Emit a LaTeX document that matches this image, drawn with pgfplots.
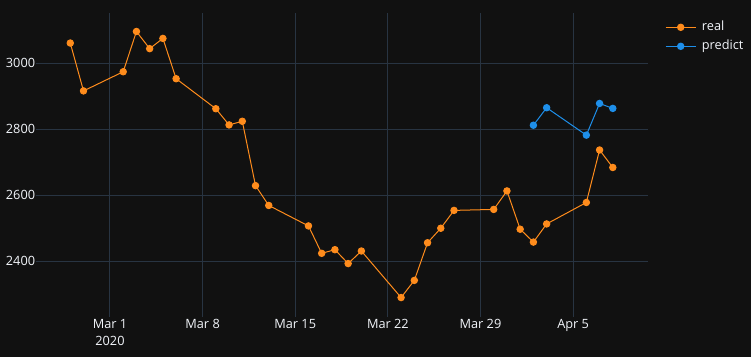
\documentclass[border=0pt]{standalone}
\usepackage{fontspec}
\setmainfont{Open Sans}
\usepackage{pgfplots}
\pgfplotsset{compat=1.18}
\definecolor{bg}{HTML}{111111}
\definecolor{gridc}{HTML}{283442}
\definecolor{fg}{HTML}{F2F5FA}
\definecolor{realc}{HTML}{FF8C1C}
\definecolor{predc}{HTML}{1E8FEA}
\begin{document}
\begin{tikzpicture}
\fill[bg] (-36bp,-40.3bp) rectangle (715bp,316.7bp);
\begin{axis}[
  at={(0,0)}, anchor=south west,
  width=612bp, height=303.7bp, scale only axis,
  xmin=-5.59, xmax=40.66, ymin=2232, ymax=3152,
  axis line style={draw=none},
  major tick length=0pt,
  grid=major,
  grid style={gridc, line width=1bp},
  xtick={0,7,14,21,28,35},
  xticklabels={{Mar 1\\2020},{Mar 8},{Mar 15},{Mar 22},{Mar 29},{Apr 5}},
  ytick={2400,2600,2800,3000},
  xticklabel style={align=center, text=fg, font=\fontsize{12.8}{16.7}\selectfont, anchor=north, yshift=0.5bp},
  yticklabel style={text=fg, font=\fontsize{12.8}{15}\selectfont, xshift=2.6bp},
  yticklabel={\pgfmathprintnumber[fixed,1000 sep={}]{\tick}},
  /pgf/number format/assume math mode=true,
  legend style={at={(rel axis cs:1.0278,0.9733)}, anchor=north west, draw=none, fill=none,
    text=fg, font=\fontsize{12.8}{15}\selectfont, inner sep=0pt, row sep=7bp,
    nodes={inner sep=0pt, text height=9bp, text depth=3bp},
    /tikz/every odd column/.append style={column sep=5.7bp}},
  legend cell align=left,
  legend image code/.code={\draw[mark repeat=2,mark phase=2] plot coordinates {(0bp,0bp) (15bp,0bp) (30bp,0bp)};},
]
\addplot[realc, line width=1bp, mark=*, mark size=3.2bp, mark options={fill=realc, draw=realc}] coordinates {
(-3,3061) (-2,2916) (1,2974) (2,3096) (3,3044) (4,3075) (5,2953)
(8,2862) (9,2813) (10,2824) (11,2629) (12,2569)
(15,2507) (16,2424) (17,2435) (18,2393) (19,2431)
(22,2290) (23,2342) (24,2456) (25,2500) (26,2554)
(29,2557) (30,2613) (31,2497) (32,2458) (33,2513)
(36,2578) (37,2737) (38,2684)
};
\addlegendentry{real}
\addplot[predc, line width=1bp, mark=*, mark size=3.2bp, mark options={fill=predc, draw=predc}] coordinates {
(32,2812) (33,2865) (36,2782) (37,2878) (38,2863)
};
\addlegendentry{predict}
\end{axis}
\pgfresetboundingbox
\path[use as bounding box] (-36bp,-40.3bp) rectangle (715bp,316.7bp);
\end{tikzpicture}
\end{document}
